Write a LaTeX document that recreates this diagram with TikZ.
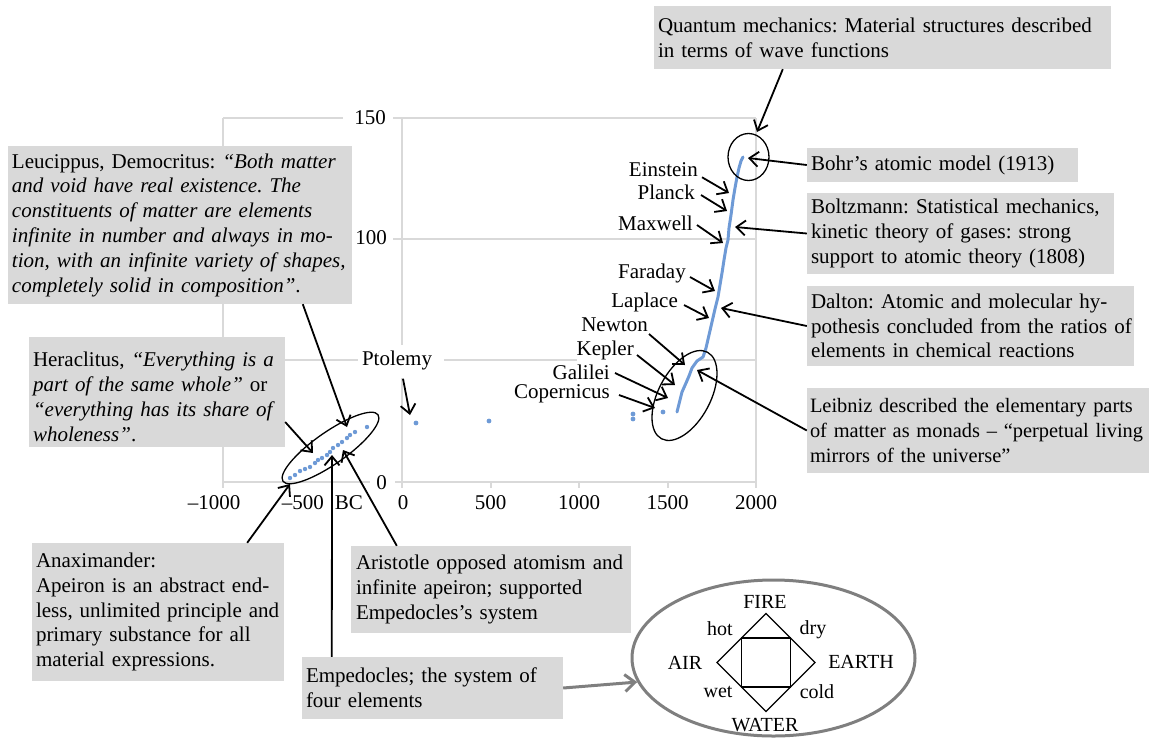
\documentclass[tikz,border=0pt]{standalone}
\usepackage{fontspec}
\setmainfont{Liberation Serif}
\usetikzlibrary{arrows.meta,shapes.geometric,calc}
\definecolor{boxgray}{HTML}{D9D9D9}
\definecolor{gridgray}{HTML}{D9D9D9}
\definecolor{dotblue}{HTML}{6E9AD6}
\definecolor{elgray}{HTML}{7F7F7F}
\newcommand{\fs}{\fontsize{21}{24.8}\selectfont\frenchspacing}
\newcommand{\fsn}{\fontsize{20.4}{24.8}\selectfont\frenchspacing}
\newcommand{\fe}{\fontsize{20}{22}\selectfont}
\begin{document}
\begin{tikzpicture}[x=1pt,y=-1pt,
  gbox/.style={fill=boxgray, inner xsep=4pt, inner ysep=2pt, align=left, font=\fs, anchor=center},
  lbl/.style={font=\fs, inner sep=0pt},
  elbl/.style={font=\fe, inner sep=0pt},
  arr/.style={line width=1.8pt, -{Straight Barb[length=9pt,width=15pt,line width=1.8pt]}},
  garr/.style={line width=3pt, elgray, -{Straight Barb[length=10pt,width=17pt,line width=3pt]}},
  gridln/.style={gridgray, line width=2pt},
  ring/.style={line width=1.3pt},
  dotp/.style={fill=dotblue, draw=none},
]
\useasboundingbox (0,0) rectangle (1149,740);

% ---------- grid ----------
\draw[gridln] (223,118) -- (343,118) (393,118) -- (756,118);
\draw[gridln] (223,239) -- (352,239) (393,239) -- (756,239);
\draw[gridln] (223,360) -- (358,360) (444,360) -- (577,360) (700,360) -- (756,360);
\draw[gridln] (223,482) -- (370,482) (395,482) -- (756,482);
\draw[gridln] (223,118) -- (223,488) (402,118) -- (402,345) (402,378) -- (402,488) (756,118) -- (756,488);
\draw[gridln] (490.5,482) -- (490.5,488) (579,482) -- (579,488) (667.5,482) -- (667.5,488);

% ---------- axis labels ----------
\node[lbl, anchor=east] (y150) at (386,118) {150};
\node[lbl, anchor=east] (y100) at (387,238) {100};
\node[lbl, anchor=east] (y0) at (387,483) {0};
\node[lbl] (xm1000) at (214,503) {–1000};
\node[lbl] (xm500) at (322.5,503) {–500\hspace{11pt}BC};
\node[lbl] (x0) at (403,503) {0};
\node[lbl] (x500) at (490.5,503) {500};
\node[lbl] (x1000) at (579,503) {1000};
\node[lbl] (x1500) at (667.5,503) {1500};
\node[lbl] (x2000) at (756,503) {2000};

% ---------- data ----------
\foreach \p in {(290,478),(295,475),(300,471),(305,469),(310,467),(315,463),(318,460),(322,458),(327,455),(330,452),(333,448),(338,445),(342,442),(347,438),(350,435),(355,432),(367,427)}
  \fill[dotp] \p circle[radius=2.2pt];
\fill[dotp] (416,423) circle[radius=2.4pt];
\fill[dotp] (489,421) circle[radius=2.4pt];
\fill[dotp] (633,414) circle[radius=2.4pt];
\fill[dotp] (633,419) circle[radius=2.4pt];
\fill[dotp] (663,412) circle[radius=2.4pt];
\draw[dotblue, line width=3pt, line join=round, line cap=round]
  (677,412) -- (679,404) -- (682,392) -- (686,383) -- (689,376) -- (692,368) -- (697,361) -- (703,357) -- (706,348) -- (709,335) -- (712,322) -- (715,309) -- (718,297) -- (720,285) -- (722,273) -- (724,260) -- (726,248) -- (728,240) -- (729,228) -- (731,215) -- (733,200) -- (735,188) -- (737,177) -- (739,168) -- (741,161) -- (743,157);

% ---------- ellipses ----------
\draw[ring, rotate around={35:(330.5,448)}] (330.5,448) ellipse [x radius=58pt, y radius=16pt];
\draw[ring, rotate around={62:(684.5,395.5)}] (684.5,395.5) ellipse [x radius=49pt, y radius=26pt];
\draw[ring] (748.5,157) ellipse [x radius=20.5pt, y radius=23.5pt];

% ---------- chart labels ----------
\node[lbl, anchor=east] (ein) at (698,170) {Einstein};
\node[lbl, anchor=east] (pla) at (695,192) {Planck};
\node[lbl, anchor=east] (mxw) at (693,223) {Maxwell};
\node[lbl, anchor=east] (far) at (686,273) {Faraday};
\node[lbl, anchor=east] (lap) at (678,302) {Laplace};
\node[lbl, anchor=east] (new) at (648,325) {Newton};
\node[lbl, anchor=east] (kep) at (634,350) {Kepler};
\node[lbl, anchor=east] (gal) at (610,372) {Galilei};
\node[lbl, anchor=east] (cop) at (610,394) {Copernicus};
\node[lbl] (pto) at (397,360) {Ptolemy};

% ---------- boxes ----------
\node[gbox, text width=449pt, minimum width=457pt, minimum height=63pt] (qm) at (882.5,37.5)
  {Quantum mechanics: Material structures described\\in terms of wave functions};
\node[gbox, text width=263pt, minimum width=271pt, minimum height=34pt] (bohr) at (942.5,165)
  {Bohr’s atomic model (1913)};
\node[gbox, text width=299pt, minimum width=307pt, minimum height=81pt] (boltz) at (960.5,233.5)
  {\mbox{Boltzmann: Statistical mechanics,}\\\mbox{kinetic theory of gases: strong}\\\mbox{support to atomic theory (1808)}};
\node[gbox, text width=319pt, minimum width=327pt, minimum height=80pt] (dalton) at (970.5,326)
  {\mbox{Dalton: Atomic and molecular hy-}\\\mbox{pothesis concluded from the ratios of}\\\mbox{elements in chemical reactions}};
\node[gbox, font=\fsn, inner xsep=3pt, text width=336pt, minimum width=342pt, minimum height=85pt] (leib) at (978,430.5)
  {\mbox{Leibniz described the elementary parts}\\\mbox{of matter as monads – “perpetual living}\\\mbox{mirrors of the universe”}};
\node[gbox, text width=336pt, minimum width=344pt, minimum height=158pt] (leu) at (180,225)
  {Leucippus, Democritus: \textit{“Both matter}\\\textit{and void have real existence. The}\\\textit{constituents of matter are elements}\\\textit{infinite in number and always in mo-}\\\textit{tion, with an infinite variety of shapes,}\\\textit{completely solid in composition”}.};
\node[gbox, text width=248pt, minimum width=256pt, minimum height=110pt] (her) at (157,392)
  {\rule{0pt}{24pt}Heraclitus, \textit{“Everything is a}\\\textit{part of the same whole”} or\\\textit{“everything has its share of}\\\textit{wholeness”}.};
\node[gbox, text width=244pt, minimum width=252pt, minimum height=138pt] (ana) at (158,612)
  {Anaximander:\\Apeiron is an abstract end-\\less, unlimited principle and\\primary substance for all\\material expressions.};
\node[gbox, inner xsep=5pt, text width=270pt, minimum width=280pt, minimum height=87pt] (ari) at (491,589.5)
  {Aristotle opposed atomism and\\infinite apeiron; supported\\Empedocles’s system};
\node[gbox, text width=253pt, minimum width=261pt, minimum height=62pt] (emp) at (432.5,688)
  {Empedocles; the system of\\four elements};

% ---------- arrow targets ----------
\coordinate (tQ) at (757,132);
\coordinate (tBohr) at (748,158);
\coordinate (tBoltz) at (735,227);
\coordinate (tDalton) at (721,308);
\coordinate (tLeib) at (697,370);
\coordinate (tEin) at (729,193);
\coordinate (tPla) at (727,211);
\coordinate (tMax) at (723,243);
\coordinate (tFar) at (715,291);
\coordinate (tLap) at (709,318);
\coordinate (tNew) at (685,365);
\coordinate (tKep) at (675,385);
\coordinate (tGal) at (668,398);
\coordinate (tCop) at (655,408);
\coordinate (tPto) at (410,415);
\coordinate (tLeu) at (347,427);
\coordinate (tHer) at (313,453);
\coordinate (tAna) at (290,484);
\coordinate (tEmp) at (332,455);
\coordinate (tAri) at (343,450);

% ---------- arrows ----------
\draw[arr] ($(qm.south west)+(129,0)$) -- (tQ);
\draw[arr] (bohr.west) -- (tBohr);
\draw[arr] (boltz.west) -- (tBoltz);
\draw[arr] (dalton.west) -- (tDalton);
\draw[arr] (leib.west) -- (tLeib);
\draw[arr] ($(ein.south east)+(4,0)$) -- (tEin);
\draw[arr] ($(pla.east)+(6,3)$) -- (tPla);
\draw[arr] ($(mxw.east)+(4,2)$) -- (tMax);
\draw[arr] ($(far.east)+(4,4)$) -- (tFar);
\draw[arr] ($(lap.east)+(6,3)$) -- (tLap);
\draw[arr] ($(new.east)+(1,9)$) -- (tNew);
\draw[arr] ($(kep.east)+(3,5)$) -- (tKep);
\draw[arr] ($(gal.east)+(5,1)$) -- (tGal);
\draw[arr] ($(cop.east)+(9,1)$) -- (tCop);
\draw[arr] ($(pto.south)+(6,9)$) -- (tPto);
\draw[arr] ($(leu.south west)+(295,0)$) -- (tLeu);
\draw[arr] ($(her.east)+(0,30)$) -- (tHer);
\draw[arr] ($(ana.north east)+(-37,0)$) -- (tAna);
\draw[arr] ($(emp.north west)+(30,0)$) -- (tEmp);
\draw[arr] ($(ari.north west)+(46,0)$) -- (tAri);

% ---------- four elements ----------
\node[draw=elgray, line width=3pt, ellipse, minimum width=283pt, minimum height=156pt] (fe) at (773.5,658) {};
\draw[line width=1.3pt] (766,613.5) -- (815,662.5) -- (766,711.5) -- (717,662.5) -- cycle;
\draw[line width=1.3pt] (741.5,638) rectangle (790.5,687);
\node[elbl] (fire) at (765,602) {FIRE};
\node[elbl] (hot) at (720,629) {hot};
\node[elbl] (dry) at (813,630) {dry};
\node[elbl] (air) at (685,663) {AIR};
\node[elbl] (earth) at (861,662) {EARTH};
\node[elbl] (wet) at (718,692) {wet};
\node[elbl] (cold) at (817,692) {cold};
\node[elbl] (water) at (765,725) {WATER};
\draw[garr] (emp.east) -- (fe.190);
\end{tikzpicture}
\end{document}
